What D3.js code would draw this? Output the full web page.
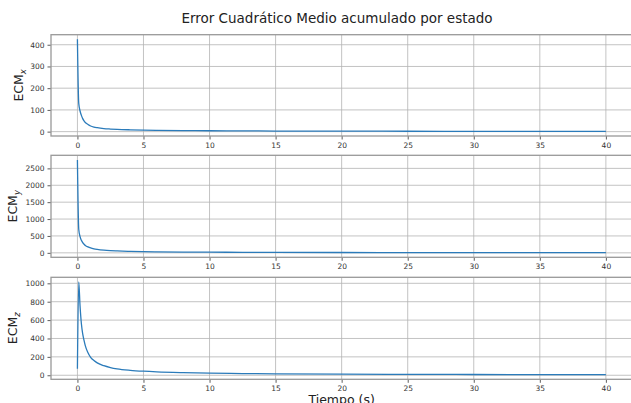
<!DOCTYPE html>
<html>
<head>
<meta charset="utf-8">
<script src="https://cdn.jsdelivr.net/npm/d3@7"></script>
<style>
  html, body { margin: 0; padding: 0; background: #fff; }
  svg { display: block; font-family: "DejaVu Sans", sans-serif; }
</style>
</head>
<body>
<svg id="chart" width="631" height="403"></svg>
<script>
// Sample times (s) and accumulated mean squared error per state
const tiempo = [0, 0.1, 0.2, 0.3, 0.4, 0.5, 0.6, 0.8, 1, 1.25, 1.5, 2, 2.5, 3, 4, 5, 6, 8, 10, 12.5, 15, 20, 25, 30, 35, 40];
const ecmX = [425, 130, 95, 75, 60, 50, 42, 33, 26, 21, 18, 14, 12, 10.5, 8.5, 7, 6, 4.8, 4, 3.3, 2.8, 2.2, 1.8, 1.5, 1.3, 1.1];
const ecmY = [2750, 700, 480, 370, 300, 255, 220, 175, 145, 120, 103, 80, 66, 57, 44, 36, 30, 23, 19, 15, 13, 10, 8, 7, 6, 5];
const ecmZ = [70, 1015, 750, 560, 450, 380, 320, 245, 195, 160, 135, 104, 84, 70, 54, 44, 37, 28.5, 23, 18.5, 15.5, 12, 10, 8.5, 7.5, 6.5];

const xTicks = [0, 5, 10, 15, 20, 25, 30, 35, 40];
const yTicksX = [0, 100, 200, 300, 400];
const yTicksY = [0, 500, 1000, 1500, 2000, 2500];
const yTicksZ = [0, 200, 400, 600, 800, 1000];

const titulo = "Error Cuadrático Medio acumulado por estado";
const etiquetaX = "Tiempo (s)";

const paneles = [
  { valores: ecmX, ticks: yTicksX, sub: "x", top: 34.7, bottom: 136, labelX: 23 },
  { valores: ecmY, ticks: yTicksY, sub: "y", top: 155.3, bottom: 257.3, labelX: 17 },
  { valores: ecmZ, ticks: yTicksZ, sub: "z", top: 277.3, bottom: 379.3, labelX: 17 }
];

const svg = d3.select("#chart");
const left = 51, right = 632.3;

// x scale with 5% padding each side
const tMin = d3.min(tiempo), tMax = d3.max(tiempo), tPad = (tMax - tMin) * 0.05;
const x = d3.scaleLinear().domain([tMin - tPad, tMax + tPad]).range([left, right]);

svg.append("text")
  .attr("x", 337).attr("y", 23)
  .attr("text-anchor", "middle")
  .attr("font-size", 13.5)
  .attr("fill", "#222")
  .text(titulo);

paneles.forEach((p, i) => {
  const vMin = d3.min(p.valores), vMax = d3.max(p.valores), vPad = (vMax - vMin) * 0.05;
  const y = d3.scaleLinear().domain([vMin - vPad, vMax + vPad]).range([p.bottom, p.top]);
  const g = svg.append("g");

  const clipId = "clip" + i;
  svg.append("clipPath").attr("id", clipId)
    .append("rect").attr("x", left).attr("y", p.top)
    .attr("width", right - left).attr("height", p.bottom - p.top);

  // grid
  g.append("g").selectAll("line").data(xTicks).join("line")
    .attr("x1", d => x(d)).attr("x2", d => x(d))
    .attr("y1", p.top).attr("y2", p.bottom)
    .attr("stroke", "#b4b4b4").attr("stroke-width", 0.8);
  g.append("g").selectAll("line").data(p.ticks).join("line")
    .attr("x1", left).attr("x2", right)
    .attr("y1", d => y(d)).attr("y2", d => y(d))
    .attr("stroke", "#b4b4b4").attr("stroke-width", 0.8);

  // line
  const linea = d3.line()
    .x((d, j) => x(tiempo[j]))
    .y(d => y(d))
    .curve(d3.curveMonotoneX);
  g.append("path")
    .datum(p.valores)
    .attr("clip-path", `url(#${clipId})`)
    .attr("d", linea)
    .attr("fill", "none")
    .attr("stroke", "#2b7bba")
    .attr("stroke-width", 1.3);

  // axes
  const ax = g.append("g").attr("transform", `translate(0,${p.bottom})`)
    .call(d3.axisBottom(x).tickValues(xTicks).tickSize(3.5).tickPadding(3).tickFormat(d3.format("d")));
  const ay = g.append("g").attr("transform", `translate(${left},0)`)
    .call(d3.axisLeft(y).tickValues(p.ticks).tickSize(3.5).tickPadding(3).tickFormat(d3.format("d")));
  [ax, ay].forEach(a => {
    a.select(".domain").remove();
    a.selectAll(".tick line").attr("stroke", "#333").attr("stroke-width", 0.8);
    a.selectAll(".tick text").attr("fill", "#333").attr("font-size", 7.5)
      .attr("font-family", "DejaVu Sans, sans-serif");
  });

  // frame
  g.append("rect")
    .attr("x", left).attr("y", p.top)
    .attr("width", right - left).attr("height", p.bottom - p.top)
    .attr("fill", "none").attr("stroke", "#999").attr("stroke-width", 1.3);

  // y label with subscript
  const cy = (p.top + p.bottom) / 2;
  const lab = svg.append("text")
    .attr("transform", `translate(${p.labelX},${cy}) rotate(-90)`)
    .attr("text-anchor", "middle")
    .attr("font-size", 12.5)
    .attr("fill", "#222");
  lab.append("tspan").text("ECM");
  lab.append("tspan").attr("font-size", 8.5).attr("font-style", "italic").attr("dy", 3).text(p.sub);
});

svg.append("text")
  .attr("x", (left + right) / 2).attr("y", 404)
  .attr("text-anchor", "middle")
  .attr("font-size", 12.5)
  .attr("fill", "#222")
  .text(etiquetaX);
</script>
</body>
</html>
